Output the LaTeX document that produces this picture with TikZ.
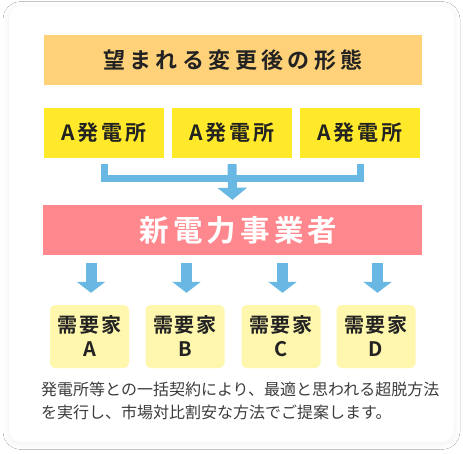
\documentclass[tikz,border=0pt]{standalone}
\usepackage{fontspec}
\newfontfamily\jp{Noto Sans CJK JP}
\newfontfamily\jpb{Noto Sans CJK JP Bold}
\usetikzlibrary{arrows.meta,shadows.blur,calc}
\definecolor{titlec}{HTML}{FFD27A}
\definecolor{plantc}{HTML}{FFE92A}
\definecolor{supc}{HTML}{FF888E}
\definecolor{custc}{HTML}{FFF7AE}
\definecolor{bluec}{HTML}{68B8E3}
\definecolor{inkc}{HTML}{222222}
\definecolor{bodyc}{HTML}{3C3C3C}
\tikzset{
  box/.style={rectangle, inner sep=0pt, text=inkc, align=center},
  titlebox/.style={box, fill=titlec, minimum width=378pt, minimum height=50pt,
     font=\jpb\fontsize{22}{26}\selectfont\addfontfeature{LetterSpace=20}},
  plantbox/.style={box, fill=plantc, minimum width=120pt, minimum height=50pt,
     font=\jpb\fontsize{21}{25}\selectfont\addfontfeature{LetterSpace=13}},
  supbox/.style={box, fill=supc, minimum width=379pt, minimum height=50pt, text=white,
     font=\jpb\fontsize{29.5}{33}\selectfont\addfontfeature{LetterSpace=14}},
  custbox/.style={box, fill=custc, rounded corners=5pt, minimum width=79pt, minimum height=63pt,
     font=\jpb\fontsize{20}{24}\selectfont\addfontfeature{LetterSpace=9}},
  bar/.style={draw=bluec, line width=7pt, line cap=butt, line join=miter},
  bigarrow/.style={draw=bluec, line width=9pt, -{Triangle[width=29pt,length=12pt,fill=bluec]}},
  downarrow/.style={draw=bluec, line width=11pt, -{Triangle[width=28pt,length=11pt,fill=bluec]}},
  note/.style={inner sep=0pt, anchor=west, align=left, text=bodyc,
     font=\jp\fontsize{16}{23}\selectfont}
}
\begin{document}
\begin{tikzpicture}[x=1pt,y=-1pt]
\useasboundingbox (0,0) rectangle (463,454);
\fill[white] (0,0) rectangle (463,454);
\path[fill=white, rounded corners=12pt, blur shadow={shadow xshift=0pt, shadow yshift=-1.5pt, shadow blur radius=6pt, shadow opacity=6}] (9,6) rectangle (454,442);
\node[titlebox] (title) at (233,60) {望まれる変更後の形態};
\node[plantbox] (a1) at (104,133) {A発電所};
\node[plantbox] (a2) at (232,133) {A発電所};
\node[plantbox] (a3) at (360,133) {A発電所};
\node[supbox] (sup) at (232.5,230) {\hspace*{12pt}新電力事業者};
\node[custbox] (c1) at (89.5,336.5) {需要家\\A};
\node[custbox] (c2) at (185,336.5) {需要家\\B};
\node[custbox] (c3) at (281,336.5) {需要家\\C};
\node[custbox] (c4) at (376,336.5) {需要家\\D};
\coordinate (j) at (232,178.5);
\draw[bar] ([yshift=-6pt]a1.south) |- (j) -| ([yshift=-6pt]a3.south);
\draw[bigarrow] ([yshift=-6pt]a2.south) -- ([yshift=5pt]sup.north);
\foreach \c in {c1,c2,c3,c4}{
  \draw[downarrow] ($(\c.north)+(1.5,-42)$) -- ($(\c.north)+(1.5,-12)$);
}
\node[note] (txt) at (41,400.5) {発電所等との一括契約により、最適と思われる超脱方法\\を実行し、市場対比割安な方法でご提案します。};
\end{tikzpicture}
\end{document}
